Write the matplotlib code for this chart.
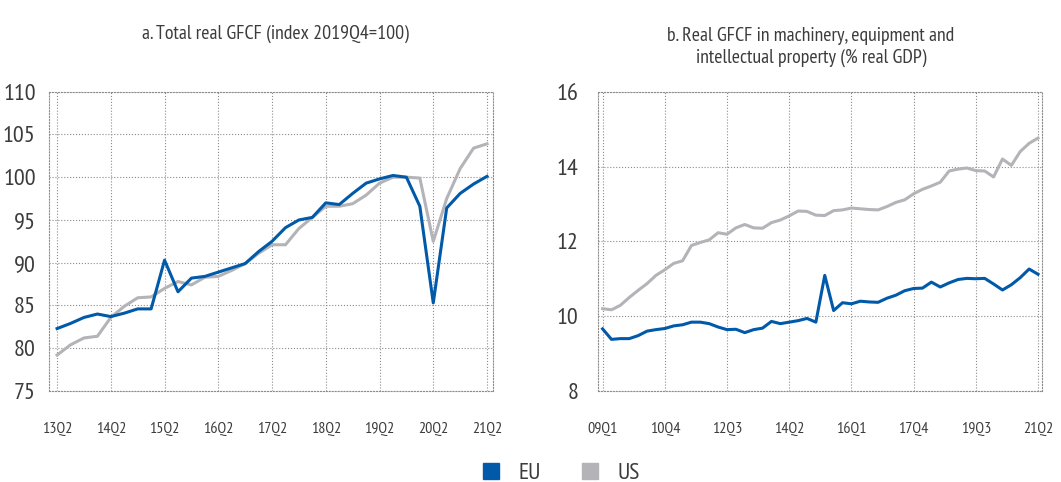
import matplotlib.pyplot as plt
import matplotlib.transforms as mtransforms
import numpy as np

plt.rcParams['font.family'] = ['PT Sans Narrow', 'DejaVu Sans']

# panel a: total real GFCF, quarterly 13Q2..21Q2
eu_a = [82.3, 82.9, 83.6, 84.0, 83.7, 84.1, 84.6, 84.6, 90.3, 86.6, 88.2,
        88.4, 88.9, 89.4, 89.9, 91.3, 92.5, 94.1, 95.0, 95.3, 97.0, 96.8,
        98.1, 99.3, 99.8, 100.2, 100.0, 96.6, 85.3, 96.4, 98.1, 99.2, 100.1]
us_a = [79.2, 80.4, 81.2, 81.4, 83.6, 84.9, 85.9, 86.0, 87.0, 87.8, 87.4,
        88.3, 88.4, 89.1, 89.9, 91.1, 92.1, 92.1, 94.0, 95.3, 96.6, 96.6,
        96.9, 97.9, 99.3, 100.0, 100.0, 99.9, 92.5, 97.5, 101.0, 103.4, 103.9]
ticks_a = ['13Q2', '14Q2', '15Q2', '16Q2', '17Q2', '18Q2', '19Q2', '20Q2', '21Q2']

# panel b: machinery, equipment and IP (% real GDP), quarterly 09Q1..21Q2
eu_b = [9.66, 9.38, 9.40, 9.40, 9.48, 9.60, 9.64, 9.67, 9.74, 9.77, 9.84,
        9.84, 9.80, 9.71, 9.64, 9.65, 9.56, 9.64, 9.68, 9.86, 9.80, 9.84,
        9.88, 9.94, 9.84, 11.09, 10.15, 10.36, 10.33, 10.40, 10.38, 10.37,
        10.48, 10.56, 10.68, 10.74, 10.75, 10.91, 10.78, 10.89, 10.98, 11.01,
        11.00, 11.01, 10.86, 10.70, 10.84, 11.03, 11.26, 11.12]
us_b = [10.20, 10.17, 10.29, 10.50, 10.69, 10.87, 11.09, 11.24, 11.41, 11.48,
        11.89, 11.97, 12.04, 12.23, 12.19, 12.36, 12.45, 12.36, 12.35, 12.50,
        12.57, 12.68, 12.81, 12.80, 12.70, 12.69, 12.82, 12.84, 12.89, 12.87,
        12.85, 12.84, 12.93, 13.04, 13.11, 13.27, 13.39, 13.48, 13.58, 13.88,
        13.93, 13.96, 13.89, 13.88, 13.72, 14.20, 14.03, 14.40, 14.62, 14.76]
ticks_b = ['09Q1', '10Q4', '12Q3', '14Q2', '16Q1', '17Q4', '19Q3', '21Q2']

EU_COLOR = '#005aa9'
US_COLOR = '#b4b4b8'
TXT = '#3c3c3c'
GRID = '#8c8c8c'

fig = plt.figure(figsize=(10.61, 4.82), dpi=100)
ax1 = fig.add_axes([0.0462, 0.1888, 0.4185, 0.621])
ax2 = fig.add_axes([0.5636, 0.1888, 0.4185, 0.621])


def style(ax, n, step, labels, ylim, yticks, pad_l, pad_r, ypad):
    x = np.arange(n)
    ax.set_xlim(-pad_l, n - 1 + pad_r)
    ax.set_ylim(*ylim)
    ax.set_xticks(x[::step])
    ax.set_xticklabels([])
    ax.set_yticks(yticks)
    ax.set_yticklabels([str(v) for v in yticks], fontsize=17.5, color=TXT)
    ax.tick_params(length=0)
    ax.tick_params(axis='y', pad=ypad)
    ax.grid(True, linestyle=':', color=GRID, linewidth=0.8)
    ax.set_axisbelow(True)
    for s in ax.spines.values():
        s.set_linestyle(':')
        s.set_color(GRID)
        s.set_linewidth(0.8)
    # x labels drawn as text, baseline ~42 px under the axes
    trans = ax.get_xaxis_transform() + mtransforms.ScaledTranslation(0, -42 / 100, fig.dpi_scale_trans)
    for xi, lab in zip(x[::step], labels):
        ax.text(xi, 0, lab, transform=trans, ha='center', va='baseline',
                fontsize=11.5, color=TXT)


x1 = np.arange(len(eu_a))
ax1.plot(x1, us_a, color=US_COLOR, lw=2.2, label='US')
ax1.plot(x1, eu_a, color=EU_COLOR, lw=2.2, label='EU')
style(ax1, len(eu_a), 4, ticks_a, (75, 110), [75, 80, 85, 90, 95, 100, 105, 110],
      0.6, 0.45, 9.5)
ax1.set_title('a. Total real GFCF (index 2019Q4=100)', fontsize=14.3, color=TXT,
              pad=38, x=0.51)

x2 = np.arange(len(eu_b))
ax2.plot(x2, us_b, color=US_COLOR, lw=2.2, label='US')
ax2.plot(x2, eu_b, color=EU_COLOR, lw=2.2, label='EU')
style(ax2, len(eu_b), 7, ticks_b, (8, 16), [8, 10, 12, 14, 16], 0.52, 0.45, 14)
ax2.set_title('b. Real GFCF in machinery, equipment and\nintellectual property (% real GDP)',
              fontsize=14.3, color=TXT, pad=21, x=0.48, linespacing=1.25)

handles = [plt.Line2D([], [], marker='s', linestyle='none', markersize=11, color=EU_COLOR),
           plt.Line2D([], [], marker='s', linestyle='none', markersize=11, color=US_COLOR)]
leg = fig.legend(handles, ['EU', 'US'], loc='lower center', bbox_to_anchor=(0.526, -0.048),
                 ncol=2, frameon=False, fontsize=17, columnspacing=1.5, handletextpad=0.55,
                 handlelength=1.2)
for t in leg.get_texts():
    t.set_color(TXT)

fig.savefig('out.png', dpi=100)
